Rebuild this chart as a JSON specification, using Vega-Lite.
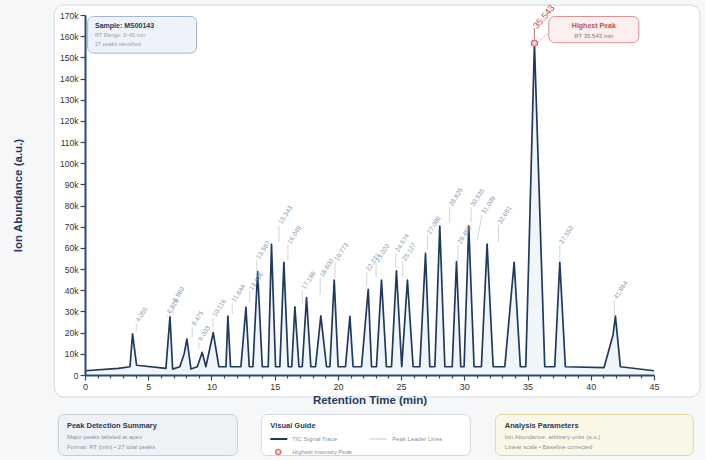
{
  "$schema": "https://vega.github.io/schema/vega-lite/v6.json",
  "background": "#f6f7f9",
  "padding": {"left": 12, "top": 3, "right": 4, "bottom": 2},
  "config": {
    "font": "Liberation Sans",
    "view": {"stroke": null},
    "axis": {
      "grid": false,
      "domainColor": "#2b4a6f",
      "domainWidth": 2,
      "tickColor": "#2b4a6f",
      "tickWidth": 1.2,
      "labelColor": "#333333",
      "titleColor": "#1f3a5f",
      "titleFontWeight": "bold",
      "titleFontSize": 11.5
    },
    "axisX": {
      "tickCount": 45,
      "labelExpr": "datum.value % 5 === 0 ? datum.label : ''",
      "tickSize": {"condition": {"test": "datum.value % 5 === 0", "value": 5}, "value": 3},
      "labelFontSize": 9,
      "labelPadding": 2,
      "labelOverlap": false,
      "labelFlush": false,
      "titlePadding": 3
    },
    "axisY": {
      "tickCount": 17,
      "labelExpr": "datum.value === 0 ? '0' : format(datum.value / 1000, 'd') + 'k'",
      "tickSize": 5,
      "labelFontSize": 8.5,
      "labelPadding": 2,
      "labelOverlap": false,
      "titlePadding": 36
    }
  },
  "resolve": {"scale": {"fill": "independent", "stroke": "independent"}},
  "datasets": {
    "trace": [
      {"rt": 0, "abundance": 2000}, {"rt": 2.64, "abundance": 3100}, {"rt": 3.56, "abundance": 3900},
      {"rt": 3.76, "abundance": 19400}, {"rt": 4.08, "abundance": 4600}, {"rt": 6.4, "abundance": 3100},
      {"rt": 6.72, "abundance": 27500}, {"rt": 6.93, "abundance": 2800}, {"rt": 7.5, "abundance": 3900},
      {"rt": 7.85, "abundance": 10200}, {"rt": 8.06, "abundance": 17000}, {"rt": 8.38, "abundance": 2800},
      {"rt": 8.88, "abundance": 3900}, {"rt": 9.27, "abundance": 10700}, {"rt": 9.56, "abundance": 3900},
      {"rt": 10.14, "abundance": 20000}, {"rt": 10.59, "abundance": 3900}, {"rt": 11.15, "abundance": 3900},
      {"rt": 11.3, "abundance": 27800}, {"rt": 11.51, "abundance": 3900}, {"rt": 12.33, "abundance": 3900},
      {"rt": 12.73, "abundance": 32000}, {"rt": 12.99, "abundance": 3900}, {"rt": 13.28, "abundance": 3900},
      {"rt": 13.65, "abundance": 48800}, {"rt": 14.02, "abundance": 3900}, {"rt": 14.49, "abundance": 3900},
      {"rt": 14.75, "abundance": 61700}, {"rt": 15.07, "abundance": 3900}, {"rt": 15.41, "abundance": 3900},
      {"rt": 15.73, "abundance": 53200}, {"rt": 16.07, "abundance": 3900}, {"rt": 16.35, "abundance": 3900},
      {"rt": 16.6, "abundance": 32200}, {"rt": 16.92, "abundance": 3900}, {"rt": 17.18, "abundance": 3900},
      {"rt": 17.52, "abundance": 36500}, {"rt": 17.86, "abundance": 3900}, {"rt": 18.23, "abundance": 3900},
      {"rt": 18.65, "abundance": 27900}, {"rt": 19.1, "abundance": 3900}, {"rt": 19.37, "abundance": 3900},
      {"rt": 19.71, "abundance": 44800}, {"rt": 20.02, "abundance": 3900}, {"rt": 20.6, "abundance": 3900},
      {"rt": 20.95, "abundance": 27700}, {"rt": 21.2, "abundance": 3900}, {"rt": 21.87, "abundance": 3900},
      {"rt": 22.4, "abundance": 40500}, {"rt": 22.66, "abundance": 3900}, {"rt": 23.05, "abundance": 3900},
      {"rt": 23.45, "abundance": 44800}, {"rt": 23.84, "abundance": 3900}, {"rt": 24.24, "abundance": 3900},
      {"rt": 24.63, "abundance": 49200}, {"rt": 25.05, "abundance": 3900}, {"rt": 25.5, "abundance": 44800},
      {"rt": 25.95, "abundance": 3900}, {"rt": 26.48, "abundance": 3900}, {"rt": 26.93, "abundance": 57400},
      {"rt": 27.27, "abundance": 3900}, {"rt": 27.67, "abundance": 3900}, {"rt": 28.06, "abundance": 70300},
      {"rt": 28.46, "abundance": 3900}, {"rt": 29.04, "abundance": 3900}, {"rt": 29.38, "abundance": 53500},
      {"rt": 29.72, "abundance": 3900}, {"rt": 29.98, "abundance": 3900}, {"rt": 30.35, "abundance": 70300},
      {"rt": 30.77, "abundance": 3900}, {"rt": 31.35, "abundance": 3900}, {"rt": 31.8, "abundance": 61800},
      {"rt": 32.28, "abundance": 3900}, {"rt": 33.2, "abundance": 3900}, {"rt": 33.94, "abundance": 53200},
      {"rt": 34.43, "abundance": 3900}, {"rt": 34.86, "abundance": 3900}, {"rt": 35.1, "abundance": 56000},
      {"rt": 35.543, "abundance": 156700}, {"rt": 36.36, "abundance": 3900}, {"rt": 37.15, "abundance": 3900},
      {"rt": 37.55, "abundance": 53200}, {"rt": 37.99, "abundance": 3900}, {"rt": 41.05, "abundance": 3500},
      {"rt": 41.76, "abundance": 18900}, {"rt": 41.95, "abundance": 27800}, {"rt": 42.34, "abundance": 3900},
      {"rt": 45, "abundance": 2000}
    ],
    "peaks": [
      {"rt": 4.055, "lx": 4.055, "base": 20500, "top": 24500},
      {"rt": 6.528, "lx": 6.528, "base": 27800, "top": 28500},
      {"rt": 6.96, "lx": 6.96, "base": 29000, "top": 34000},
      {"rt": 8.475, "lx": 8.475, "base": 18000, "top": 22700},
      {"rt": 9.003, "lx": 9.003, "base": 12300, "top": 15600},
      {"rt": 10.116, "lx": 10.116, "base": 22000, "top": 27000},
      {"rt": 11.644, "lx": 11.644, "base": 29000, "top": 34000},
      {"rt": 13.036, "lx": 13.036, "base": 34000, "top": 39500},
      {"rt": 13.587, "lx": 13.587, "base": 46400, "top": 54300},
      {"rt": 15.343, "lx": 15.343, "base": 62900, "top": 70800},
      {"rt": 16.049, "lx": 16.049, "base": 54300, "top": 61400},
      {"rt": 17.186, "lx": 17.186, "base": 33500, "top": 40000},
      {"rt": 18.6, "lx": 18.6, "base": 37800, "top": 45800},
      {"rt": 19.773, "lx": 19.773, "base": 45800, "top": 53400},
      {"rt": 22.271, "lx": 22.271, "base": 41500, "top": 48600},
      {"rt": 23.02, "lx": 23.02, "base": 45800, "top": 52900},
      {"rt": 24.574, "lx": 24.574, "base": 50500, "top": 57600},
      {"rt": 25.127, "lx": 25.127, "base": 45800, "top": 53400},
      {"rt": 27.086, "lx": 27.086, "base": 59000, "top": 66000},
      {"rt": 28.825, "lx": 28.825, "base": 71800, "top": 79300},
      {"rt": 29.496, "lx": 29.496, "base": 53400, "top": 61400},
      {"rt": 30.535, "lx": 30.535, "base": 72000, "top": 79000},
      {"rt": 31.009, "lx": 31.4, "base": 63700, "top": 75500},
      {"rt": 32.691, "lx": 32.691, "base": 62800, "top": 70800},
      {"rt": 37.55, "lx": 37.55, "base": 54300, "top": 61400},
      {"rt": 41.864, "lx": 41.864, "base": 28300, "top": 35400}
    ],
    "apex": [
      {"rt": 35.543, "abundance": 156700, "base": 158800, "top": 163800}
    ]
  },
  "columns": 1,
  "align": "none",
  "spacing": 8,
  "concat": [
    {
      "width": 569,
      "height": 360,
      "layer": [
        {
          "data": {"values": [{"x0": -2.43, "x1": 48.64, "y0": -10400, "y1": 174700}]},
          "mark": {"type": "rect", "fill": "#ffffff", "stroke": "#d3d8df", "strokeWidth": 1, "cornerRadius": 10},
          "encoding": {
            "x": {"field": "x0", "type": "quantitative", "scale": {"domain": [0, 45], "nice": false}, "title": "Retention Time (min)", "axis": {"zindex": 2}},
            "x2": {"field": "x1"},
            "y": {"field": "y0", "type": "quantitative", "scale": {"domain": [0, 170000], "nice": false}, "title": "Ion Abundance (a.u.)", "axis": {"zindex": 2}},
            "y2": {"field": "y1"}
          }
        },
        {
          "data": {"name": "trace"},
          "mark": {"type": "area", "fill": "#e4ecf6", "opacity": 0.55},
          "encoding": {
            "x": {"field": "rt", "type": "quantitative"},
            "y": {"field": "abundance", "type": "quantitative"}
          }
        },
        {
          "data": {"name": "trace"},
          "mark": {"type": "line", "color": "#1e3a5f", "strokeWidth": 1.7, "strokeJoin": "round"},
          "encoding": {
            "x": {"field": "rt", "type": "quantitative"},
            "y": {"field": "abundance", "type": "quantitative"}
          }
        },
        {
          "data": {"name": "peaks"},
          "mark": {"type": "rule", "color": "#c3cad4", "strokeWidth": 0.8},
          "encoding": {
            "x": {"field": "rt", "type": "quantitative"},
            "x2": {"field": "lx"},
            "y": {"field": "base", "type": "quantitative"},
            "y2": {"field": "top"}
          }
        },
        {
          "data": {"name": "peaks"},
          "mark": {"type": "text", "angle": -57, "align": "left", "baseline": "middle", "dx": 2, "fontSize": 6.5, "color": "#8797ad"},
          "encoding": {
            "x": {"field": "lx", "type": "quantitative"},
            "y": {"field": "top", "type": "quantitative"},
            "text": {"field": "rt", "type": "quantitative", "format": ".3f"}
          }
        },
        {
          "data": {"values": [{"x0": 35.78, "x1": 36.62, "y0": 156900, "y1": 161300}]},
          "mark": {"type": "rule", "color": "#d99a9a", "strokeWidth": 0.9, "strokeDash": [2, 2]},
          "encoding": {
            "x": {"field": "x0", "type": "quantitative"},
            "x2": {"field": "x1"},
            "y": {"field": "y0", "type": "quantitative"},
            "y2": {"field": "y1"}
          }
        },
        {
          "data": {"name": "apex"},
          "mark": {"type": "rule", "color": "#b86a6a", "strokeWidth": 0.9},
          "encoding": {
            "x": {"field": "rt", "type": "quantitative"},
            "y": {"field": "base", "type": "quantitative"},
            "y2": {"field": "top"}
          }
        },
        {
          "data": {"name": "apex"},
          "mark": {"type": "point", "shape": "circle", "size": 38, "filled": false, "fill": "#f6caca", "fillOpacity": 1, "stroke": "#d26464", "strokeWidth": 1.2},
          "encoding": {
            "x": {"field": "rt", "type": "quantitative"},
            "y": {"field": "abundance", "type": "quantitative"}
          }
        },
        {
          "data": {"name": "apex"},
          "mark": {"type": "text", "angle": -50, "align": "left", "baseline": "middle", "dx": 1, "fontSize": 9, "color": "#c0504d"},
          "encoding": {
            "x": {"field": "rt", "type": "quantitative"},
            "y": {"field": "top", "type": "quantitative"},
            "text": {"field": "rt", "type": "quantitative", "format": ".3f"}
          }
        },
        {
          "data": {"values": [
            {"box": "sample", "x0": 0.21, "x1": 8.82, "y0": 152000, "y1": 169300},
            {"box": "apex", "x0": 36.68, "x1": 43.8, "y0": 156900, "y1": 169300}
          ]},
          "mark": {"type": "rect", "cornerRadius": 6, "strokeWidth": 1},
          "encoding": {
            "x": {"field": "x0", "type": "quantitative"},
            "x2": {"field": "x1"},
            "y": {"field": "y0", "type": "quantitative"},
            "y2": {"field": "y1"},
            "fill": {"field": "box", "type": "nominal", "scale": {"domain": ["sample", "apex"], "range": ["#eef3fa", "#fcefef"]}, "legend": null},
            "stroke": {"field": "box", "type": "nominal", "scale": {"domain": ["sample", "apex"], "range": ["#9fb4cf", "#dc8f8f"]}, "legend": null}
          }
        },
        {
          "data": {"values": [{"x": 0.79, "y": 164900, "text": "Sample: MS00143"}]},
          "mark": {"type": "text", "align": "left", "baseline": "middle", "fontSize": 7, "fontWeight": "bold", "color": "#1f3a5f"},
          "encoding": {
            "x": {"field": "x", "type": "quantitative"},
            "y": {"field": "y", "type": "quantitative"},
            "text": {"field": "text"}
          }
        },
        {
          "data": {"values": [
            {"x": 0.79, "y": 160500, "text": "RT Range: 0–45 min"},
            {"x": 0.79, "y": 156100, "text": "27 peaks identified"}
          ]},
          "mark": {"type": "text", "align": "left", "baseline": "middle", "fontSize": 5.5, "color": "#9a9fa8"},
          "encoding": {
            "x": {"field": "x", "type": "quantitative"},
            "y": {"field": "y", "type": "quantitative"},
            "text": {"field": "text"}
          }
        },
        {
          "data": {"values": [{"x": 40.24, "y": 164900, "text": "Highest Peak"}]},
          "mark": {"type": "text", "align": "center", "baseline": "middle", "fontSize": 7, "fontWeight": "bold", "color": "#c0504d"},
          "encoding": {
            "x": {"field": "x", "type": "quantitative"},
            "y": {"field": "y", "type": "quantitative"},
            "text": {"field": "text"}
          }
        },
        {
          "data": {"values": [{"x": 40.24, "y": 160100, "text": "RT 35.543 min"}]},
          "mark": {"type": "text", "align": "center", "baseline": "middle", "fontSize": 6, "color": "#a86a6a"},
          "encoding": {
            "x": {"field": "x", "type": "quantitative"},
            "y": {"field": "y", "type": "quantitative"},
            "text": {"field": "text"}
          }
        }
      ]
    },
    {
      "width": 569,
      "height": 42,
      "layer": [
        {
          "data": {"values": [
            {"panel": "summary", "x0": -4.69, "x1": 26.78, "y0": 0.5, "y1": 41.5},
            {"panel": "guide", "x0": 30.98, "x1": 67.71, "y0": 0.5, "y1": 41.5},
            {"panel": "params", "x0": 72.11, "x1": 106.9, "y0": 0.5, "y1": 41.5}
          ]},
          "mark": {"type": "rect", "cornerRadius": 6, "strokeWidth": 1},
          "encoding": {
            "x": {"field": "x0", "type": "quantitative", "scale": {"domain": [0, 100], "nice": false, "zero": false}, "axis": null},
            "x2": {"field": "x1"},
            "y": {"field": "y0", "type": "quantitative", "scale": {"domain": [0, 42], "nice": false, "reverse": true}, "axis": null},
            "y2": {"field": "y1"},
            "fill": {"field": "panel", "type": "nominal", "scale": {"domain": ["summary", "guide", "params"], "range": ["#eef1f5", "#ffffff", "#fbf7e6"]}, "legend": null},
            "stroke": {"field": "panel", "type": "nominal", "scale": {"domain": ["summary", "guide", "params"], "range": ["#c6ccd5", "#d3d8df", "#e2d6a5"]}, "legend": null}
          }
        },
        {
          "data": {"values": [
            {"x": -3.18, "y": 12, "text": "Peak Detection Summary"},
            {"x": 32.57, "y": 12, "text": "Visual Guide"},
            {"x": 73.78, "y": 12, "text": "Analysis Parameters"}
          ]},
          "mark": {"type": "text", "align": "left", "baseline": "middle", "fontSize": 7.5, "fontWeight": "bold", "color": "#1f3a5f"},
          "encoding": {
            "x": {"field": "x", "type": "quantitative", "axis": null},
            "y": {"field": "y", "type": "quantitative", "axis": null},
            "text": {"field": "text"}
          }
        },
        {
          "data": {"values": [
            {"x": -3.18, "y": 23, "text": "Major peaks labeled at apex"},
            {"x": -3.18, "y": 33, "text": "Format: RT (min) • 27 total peaks"},
            {"x": 36.43, "y": 25, "text": "TIC Signal Trace"},
            {"x": 54.0, "y": 25, "text": "Peak Leader Lines"},
            {"x": 36.43, "y": 38, "text": "Highest Intensity Peak"},
            {"x": 73.78, "y": 23, "text": "Ion Abundance: arbitrary units (a.u.)"},
            {"x": 73.78, "y": 33, "text": "Linear scale • Baseline corrected"}
          ]},
          "mark": {"type": "text", "align": "left", "baseline": "middle", "fontSize": 6, "color": "#8d929a"},
          "encoding": {
            "x": {"field": "x", "type": "quantitative", "axis": null},
            "y": {"field": "y", "type": "quantitative", "axis": null},
            "text": {"field": "text"}
          }
        },
        {
          "data": {"values": [{"x0": 32.57, "x1": 35.56, "y": 25}]},
          "mark": {"type": "rule", "color": "#1e3a5f", "strokeWidth": 2},
          "encoding": {
            "x": {"field": "x0", "type": "quantitative", "axis": null},
            "x2": {"field": "x1"},
            "y": {"field": "y", "type": "quantitative", "axis": null}
          }
        },
        {
          "data": {"values": [{"x0": 50.0, "x1": 53.13, "y": 25}]},
          "mark": {"type": "rule", "color": "#c3cad4", "strokeWidth": 1},
          "encoding": {
            "x": {"field": "x0", "type": "quantitative", "axis": null},
            "x2": {"field": "x1"},
            "y": {"field": "y", "type": "quantitative", "axis": null}
          }
        },
        {
          "data": {"values": [{"x": 33.97, "y": 38}]},
          "mark": {"type": "point", "shape": "circle", "size": 30, "filled": false, "fill": "#f6caca", "fillOpacity": 1, "stroke": "#d26464", "strokeWidth": 1.2},
          "encoding": {
            "x": {"field": "x", "type": "quantitative", "axis": null},
            "y": {"field": "y", "type": "quantitative", "axis": null}
          }
        }
      ]
    }
  ]
}
